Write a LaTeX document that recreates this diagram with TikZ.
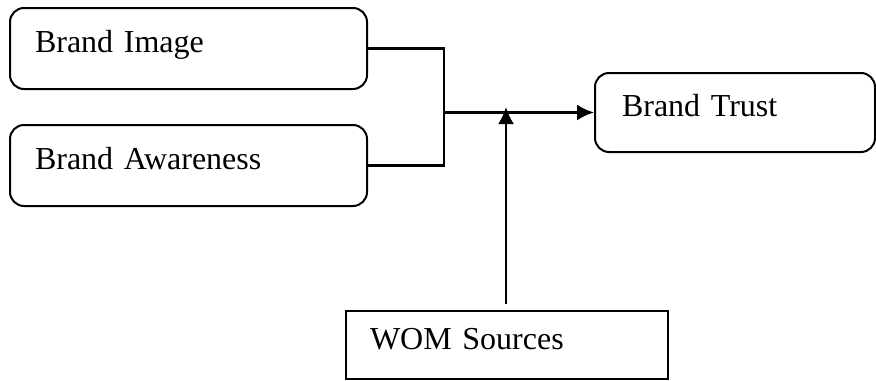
\documentclass[tikz,border=0pt]{standalone}
\usepackage{fontspec}
\setmainfont{Liberation Serif}
\usetikzlibrary{arrows.meta,calc,positioning}
\tikzset{
    -{Latex[length=8.5pt,width=8pt]},auto,
    state/.style ={rectangle, draw, rounded corners=7pt, line width=1pt, align=left,
                   inner xsep=12.5pt, text height=12pt, text depth=8pt,
                   font=\fontsize{16}{19}\selectfont},
    plain/.style = {-}
}
\begin{document}
\begin{tikzpicture}[x=0.5pt,y=-0.5pt,line width=1.2pt]
    \useasboundingbox (0,0) rectangle (876,380);
    \node[state, text width=153.5pt, minimum height=40.5pt] (img) at (188.5,48.5) {Brand Image};
    \node[state, text width=153.5pt, minimum height=40.5pt] (aw) at (188.5,165.5) {Brand Awareness};
    \node[state, text width=113pt, minimum height=39.5pt, inner xsep=13.5pt] (trust) at (735,112.5) {Brand Trust};
    \node[state, sharp corners, text width=137pt, minimum height=34pt, inner xsep=12pt] (wom) at (507,345) {WOM Sources};

    \coordinate (j) at (444,112.5);
    \coordinate (m) at (506,107);

    \draw[plain] (img.east) -| (j) |- (aw.east);
    \path (j) edge (trust);
    \path[shorten <=3pt] (wom.north -| m) edge (m);

\end{tikzpicture}
\end{document}
